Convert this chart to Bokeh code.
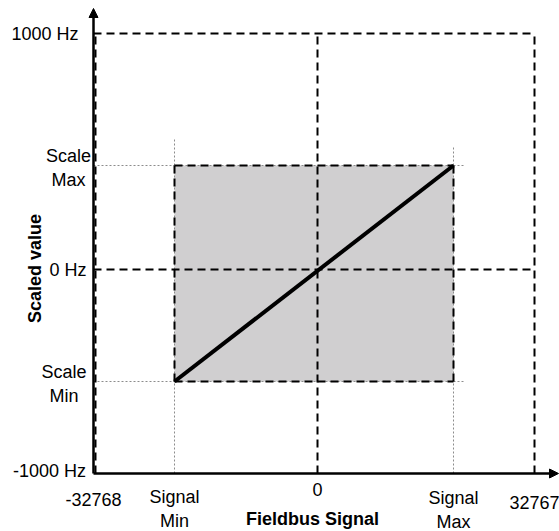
from bokeh.plotting import figure
from bokeh.models import Range1d, Arrow, NormalHead, ColumnDataSource
from bokeh.core.properties import value
from bokeh.embed import file_html
from bokeh.resources import INLINE
import math

# ---- schematic data (positions in chart units, origin at 0 / 0 Hz) ----
x_axis_start = -224          # position of -32768 (y axis)
x_axis_end = 241             # arrow tip of x axis
y_axis_start = -204          # position of -1000 Hz (x axis)
y_axis_end = 261             # arrow tip of y axis

signal_min = -143
signal_max = 136
scale_min = -112
scale_max = 104
x_full_max = 217             # 32767
y_full_max = 236             # 1000 Hz

x_tick_pos = [-224, -143, 0, 136, 217]
x_tick_labels = ["-32768", "Signal\nMin", "0", "Signal\nMax", "32767"]
y_tick_pos = [236, 104, 0, -112, -204]
y_tick_labels = ["1000 Hz", "Scale\nMax", "0 Hz", "Scale\nMin", "-1000 Hz"]

x_title = "Fieldbus Signal"
y_title = "Scaled value"

# ---- layout (label anchors) ----
x_label_dy = [-26, -35, -16, -36, -29]
y_label_x = [-272.5, -249, -249.5, -253.5, -268]
y_label_dy = [0, -2, 0, -2, 3]

FONT = "Liberation Sans"

p = figure(width=559, height=531, output_backend="svg", toolbar_location=None,
           x_axis_type=None, y_axis_type=None,
           x_range=Range1d(-317, 242), y_range=Range1d(-262, 269),
           min_border=0, min_border_left=0, min_border_right=0,
           min_border_top=0, min_border_bottom=0)
p.outline_line_color = None
p.grid.visible = False
p.background_fill_color = "white"

# grey area
p.quad(left=[signal_min], right=[signal_max], bottom=[scale_min], top=[scale_max],
       fill_color="#d0cfd0", line_color=None)

# thin dotted guides
dot_x = [[signal_min, signal_min], [signal_max, signal_max],
         [x_axis_start, signal_max + 12], [x_axis_start, signal_max + 12]]
dot_y = [[y_axis_start, scale_max + 27], [y_axis_start, scale_max + 20],
         [scale_max, scale_max], [scale_min, scale_min]]
p.multi_line(dot_x, dot_y, line_color="#8c8c8c", line_width=1, line_dash="2 2")

# dashed black lines
dash_x = [[x_axis_start, x_full_max], [x_full_max, x_full_max],
          [0, 0], [x_axis_start, x_full_max],
          [signal_min, signal_max], [signal_max, signal_max],
          [signal_min, signal_max], [signal_min, signal_min],
          [x_axis_start + 2, x_axis_start + 2]]
dash_y = [[y_full_max, y_full_max], [y_axis_start, y_full_max],
          [y_axis_start, y_full_max], [0, 0],
          [scale_max, scale_max], [scale_min, scale_max],
          [scale_min, scale_min], [scale_min, scale_max],
          [y_axis_start, y_full_max]]
p.multi_line(dash_x, dash_y, line_color="black", line_width=2, line_dash="8 5")

# scaling line
p.line([signal_min, signal_max], [scale_min, scale_max], line_color="black", line_width=4)

# axes with arrows
p.add_layout(Arrow(end=NormalHead(size=9, fill_color="black", line_color="black"),
                   x_start=x_axis_start, y_start=y_axis_start,
                   x_end=x_axis_start, y_end=y_axis_end,
                   line_color="black", line_width=2.5))
p.add_layout(Arrow(end=NormalHead(size=9, fill_color="black", line_color="black"),
                   x_start=x_axis_start, y_start=y_axis_start,
                   x_end=x_axis_end, y_end=y_axis_start,
                   line_color="black", line_width=2.5))

# tick labels
xsrc = ColumnDataSource(dict(x=x_tick_pos,
                             y=[y_axis_start + d for d in x_label_dy],
                             t=x_tick_labels))
p.text(x="x", y="y", text="t", source=xsrc, text_font=value(FONT),
       text_font_size="18px", text_align="center", text_baseline="middle",
       text_line_height=1.2, text_color="black")

ysrc = ColumnDataSource(dict(x=y_label_x,
                             y=[v + d for v, d in zip(y_tick_pos, y_label_dy)],
                             t=y_tick_labels))
p.text(x="x", y="y", text="t", source=ysrc, text_font=value(FONT),
       text_font_size="18px", text_align="center", text_baseline="middle",
       text_line_height=1.2, text_color="black")

# axis titles
p.text(x=[-5], y=[-249], text=[x_title], text_font=value(FONT),
       text_font_size="18px", text_font_style="bold", text_align="center",
       text_baseline="middle", text_color="black")
p.text(x=[-282.5], y=[1], text=[y_title], text_font=value(FONT),
       text_font_size="18px", text_font_style="bold", text_align="center",
       text_baseline="middle", angle=math.pi / 2, text_color="black")

open("out.html", "w").write(file_html(p, INLINE))
